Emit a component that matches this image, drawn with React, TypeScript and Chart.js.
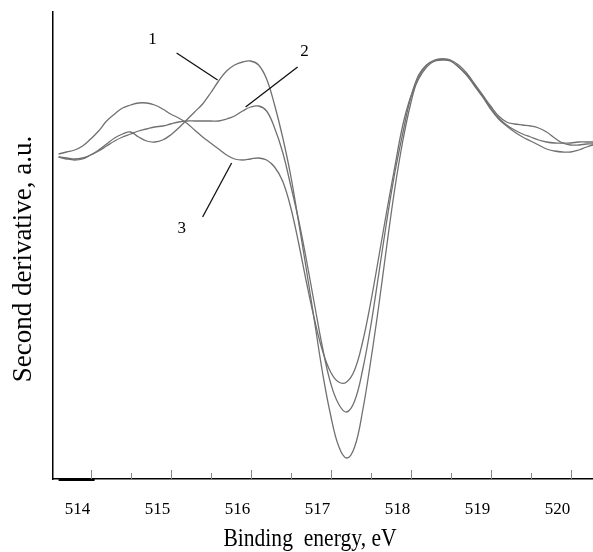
import React, { useEffect, useRef } from "react";
import { Chart, registerables } from "chart.js";

Chart.register(...registerables);

// Binding energy grid (eV)
const energy = [
  513.6, 513.7, 513.8, 513.9,
  514.0, 514.1, 514.2, 514.3, 514.4, 514.5, 514.6, 514.7, 514.8, 514.9,
  515.0, 515.1, 515.2, 515.3, 515.4, 515.5, 515.6, 515.7, 515.8, 515.9,
  516.0, 516.1, 516.2, 516.3, 516.4, 516.5, 516.6, 516.7, 516.8, 516.9,
  517.0, 517.1, 517.2, 517.3, 517.4, 517.5, 517.6, 517.7, 517.8, 517.9,
  518.0, 518.1, 518.2, 518.3, 518.4, 518.5, 518.6, 518.7, 518.8, 518.9,
  519.0, 519.1, 519.2, 519.3, 519.4, 519.5, 519.6, 519.7, 519.8, 519.9,
  520.0, 520.1, 520.2, 520.28,
];

// Second derivative, a.u.
const curve1 = [
  0.3, 0.2, 0.1, 0.2,
  0.5, 1.0, 1.6, 2.2, 2.6, 2.8, 2.3, 1.9, 1.8, 2.0,
  2.5, 3.2, 4.0, 4.8, 5.6, 6.7, 7.9, 8.9, 9.5, 9.8,
  9.9, 9.5, 8.1, 5.5, 2.3, -1.5, -6.2, -11.1, -16.2, -21.3,
  -25.5, -28.6, -29.8, -28.7, -25.1, -20.2, -14.7, -8.7, -3.0, 1.8,
  5.6, 8.3, 9.5, 10.0, 10.1, 9.9, 9.3, 8.5, 7.4, 6.3,
  5.1, 4.1, 3.4, 2.8, 2.3, 1.9, 1.5, 1.1, 0.9, 0.8,
  0.8, 1.0, 1.3, 1.5,
];

const curve2 = [
  0.3, 0.1, 0.0, 0.1,
  0.5, 0.9, 1.4, 1.9, 2.3, 2.6, 2.9, 3.1, 3.3, 3.4,
  3.6, 3.8, 3.9, 3.9, 3.9, 3.9, 3.9, 4.1, 4.4, 4.9,
  5.3, 5.4, 4.9, 3.2, 0.8, -2.5, -6.0, -10.1, -14.5, -18.8,
  -22.3, -24.4, -25.2, -24.1, -21.0, -16.7, -11.5, -6.2, -1.4, 2.6,
  6.2, 8.5, 9.5, 9.9, 10.0, 9.9, 9.3, 8.5, 7.5, 6.4,
  5.2, 4.2, 3.5, 3.0, 2.6, 2.3, 2.0, 1.8, 1.7, 1.7,
  1.7, 1.8, 1.8, 1.8,
];

const curve3 = [
  0.6, 0.8, 1.0, 1.4,
  2.1, 2.9, 3.9, 4.6, 5.2, 5.5, 5.7, 5.7, 5.5, 5.1,
  4.6, 4.2, 3.7, 3.0, 2.3, 1.7, 1.1, 0.5, 0.1, 0.0,
  0.1, 0.2, 0.0, -0.7, -2.1, -4.7, -8.3, -12.3, -16.0, -19.1,
  -21.2, -22.2, -22.2, -21.0, -18.2, -14.3, -9.8, -5.2, -0.8, 3.4,
  6.3, 8.1, 9.3, 9.9, 10.1, 10.0, 9.5, 8.7, 7.6, 6.5,
  5.4, 4.4, 3.8, 3.6, 3.5, 3.4, 3.2, 2.8, 2.2, 1.7,
  1.5, 1.5, 1.6, 1.6,
];

const majorTicks = [514, 515, 516, 517, 518, 519, 520];
const minorTicks = [514.5, 515.5, 516.5, 517.5, 518.5, 519.5];

// Curve number labels (energy, value) and their leader lines
const curveNames = ["1", "2", "3"];
const nameEnergy = [514.775, 516.675, 515.14];
const nameValue = [12.0, 10.8, -6.9];
const leaderFromE = [515.075, 516.5875, 515.7625];
const leaderFromV = [10.7, 9.3, -0.3];
const leaderToE = [515.5875, 515.9375, 515.4];
const leaderToV = [8.0, 5.3, -5.7];

const xTitle = "Binding  energy, eV";
const yTitle = "Second derivative, a.u.";

const SERIF = '"Liberation Serif", "Times New Roman", serif';

const decorPlugin = {
  id: "decor",
  afterDraw(chart: any) {
    const { ctx, chartArea } = chart;
    const x = chart.scales.x;
    const y = chart.scales.y;
    const bottom = chartArea.bottom;
    ctx.save();

    // inward tick marks
    ctx.strokeStyle = "#888888";
    ctx.lineWidth = 1;
    ctx.beginPath();
    for (const t of majorTicks) {
      const px = Math.round(x.getPixelForValue(t)) + 0.5;
      ctx.moveTo(px, bottom);
      ctx.lineTo(px, bottom - 9);
    }
    for (const t of minorTicks) {
      const px = Math.round(x.getPixelForValue(t)) + 0.5;
      ctx.moveTo(px, bottom);
      ctx.lineTo(px, bottom - 6);
    }
    ctx.stroke();

    // small thick stub on the axis near the origin
    ctx.strokeStyle = "#000";
    ctx.lineWidth = 2;
    ctx.beginPath();
    ctx.moveTo(x.getPixelForValue(513.6), bottom + 1);
    ctx.lineTo(x.getPixelForValue(514.05), bottom + 1);
    ctx.stroke();

    // leader lines
    ctx.strokeStyle = "#111";
    ctx.lineWidth = 1.3;
    for (let i = 0; i < curveNames.length; i++) {
      ctx.beginPath();
      ctx.moveTo(x.getPixelForValue(leaderFromE[i]), y.getPixelForValue(leaderFromV[i]));
      ctx.lineTo(x.getPixelForValue(leaderToE[i]), y.getPixelForValue(leaderToV[i]));
      ctx.stroke();
    }

    // curve numbers
    ctx.fillStyle = "#000";
    ctx.font = `17px ${SERIF}`;
    ctx.textAlign = "center";
    ctx.textBaseline = "middle";
    for (let i = 0; i < curveNames.length; i++) {
      ctx.fillText(curveNames[i], x.getPixelForValue(nameEnergy[i]), y.getPixelForValue(nameValue[i]));
    }

    // x title
    ctx.save();
    ctx.font = `26px ${SERIF}`;
    ctx.textAlign = "center";
    ctx.textBaseline = "alphabetic";
    ctx.translate(310, 546);
    ctx.scale(0.83, 1);
    ctx.fillText(xTitle, 0, 0);
    ctx.restore();

    // y title
    ctx.save();
    ctx.font = `27px ${SERIF}`;
    ctx.textAlign = "center";
    ctx.textBaseline = "middle";
    ctx.translate(24, 259);
    ctx.rotate(-Math.PI / 2);
    ctx.fillText(yTitle, 0, 0);
    ctx.restore();

    ctx.restore();
  },
};

export default function App() {
  const canvasRef = useRef<HTMLCanvasElement | null>(null);

  useEffect(() => {
    if (!canvasRef.current) return;
    const mk = (vals: number[]) => energy.map((e, i) => ({ x: e, y: vals[i] }));
    const ds = (label: string, vals: number[]) => ({
      label,
      data: mk(vals),
      borderColor: "#707070",
      borderWidth: 1.3,
      pointRadius: 0,
      fill: false,
      tension: 0.4,
    });
    const chart = new Chart(canvasRef.current, {
      type: "line",
      data: {
        datasets: [ds("1", curve1), ds("2", curve2), ds("3", curve3)],
      },
      options: {
        animation: false,
        responsive: false,
        maintainAspectRatio: false,
        layout: { padding: { top: 12, right: 0, bottom: 0, left: 0 } },
        plugins: { legend: { display: false }, tooltip: { enabled: false } },
        scales: {
          x: {
            type: "linear",
            min: 513.53,
            max: 520.28,
            afterFit: (s: any) => {
              s.height = 73;
              s.paddingLeft = 0;
              s.paddingRight = 0;
            },
            grid: { display: false, drawTicks: false },
            border: { display: true, color: "#000", width: 1.5 },
            ticks: {
              stepSize: 1,
              includeBounds: false,
              autoSkip: false,
              maxRotation: 0,
              labelOffset: -13,
              padding: 20,
              color: "#000",
              font: { family: SERIF, size: 17 },
            },
          },
          y: {
            type: "linear",
            min: -31.9,
            max: 14.8,
            afterFit: (s: any) => {
              s.width = 53;
              s.paddingTop = 0;
              s.paddingBottom = 0;
            },
            grid: { display: false, drawTicks: false },
            border: { display: true, color: "#000", width: 1.5 },
            ticks: { display: false },
          },
        },
      },
      plugins: [decorPlugin],
    });
    return () => chart.destroy();
  }, []);

  return (
    <div style={{ position: "absolute", left: 0, top: 0, width: 593, height: 552, background: "#fff" }}>
      <canvas ref={canvasRef} width={593} height={552} style={{ display: "block" }} />
    </div>
  );
}
